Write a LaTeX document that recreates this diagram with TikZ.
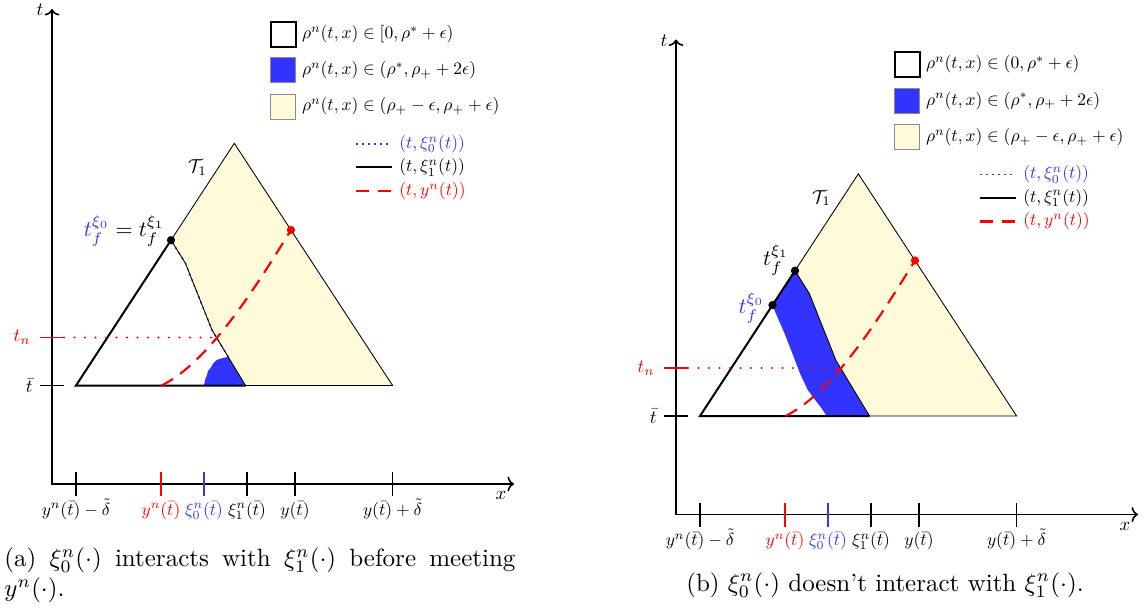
\documentclass[tikz,border=0pt]{standalone}
\usetikzlibrary{arrows.meta,calc}
\definecolor{ylw}{RGB}{255,250,218}
\definecolor{blu}{RGB}{51,51,255}
\definecolor{rd}{RGB}{255,0,0}
\tikzset{
  lab/.style={scale=0.7,inner sep=0pt},
  midlab/.style={scale=0.75,inner sep=0pt},
  biglab/.style={scale=0.88,inner sep=0pt},
  axisline/.style={line width=0.65pt},
  tickline/.style={line width=0.65pt},
  thinedge/.style={line width=0.35pt},
  thickedge/.style={line width=0.8pt},
  ycurve/.style={rd,line width=0.85pt,dash pattern=on 5.3pt off 3.5pt},
  tnline/.style={rd,line width=0.9pt,line cap=round,dash pattern=on 0pt off 4.2pt},
  xidot/.style={blu,line width=0.7pt,dash pattern=on 0.7pt off 1.7pt},
  dotmark/.style={circle,fill,inner sep=0pt,minimum size=3.3pt},
  legbox/.style={draw=black!45,line width=0.35pt},
}
\newcommand{\panelgeom}[1]{%
  \coordinate (#1A) at (76,385.5);
  \coordinate (#1B) at (392.6,385.5);
  \coordinate (#1C) at (234.3,143.3);
  \coordinate (#1D) at ($(#1A)!0.6!(#1C)$);
  \coordinate (#1H) at ($(#1A)!0.458!(#1C)$);
  \coordinate (#1P) at (185.3,263);
  \coordinate (#1Q) at (212,330);
  \coordinate (#1E) at (245.5,385.5);
  \coordinate (#1F) at (161.5,385.5);
  \coordinate (#1G) at ($(#1C)!0.358!(#1B)$);
  \coordinate (#1N) at (216.8,337.5);
  \coordinate (#1M) at (64,337.5);
  \coordinate (#1O) at (52,484);
  \coordinate (#1Y) at (52,9);
  \coordinate (#1X) at (514,484);
  \fill[ylw] (#1D) -- (#1C) -- (#1B) -- (#1E) -- (#1Q) -- (#1P) -- cycle;
}
\newcommand{\panellines}[2]{%
  \draw[thinedge] (#1D) -- (#1C) -- (#1B) -- (#1E);
  \draw[thinedge] (#1D) -- (#1P) -- (#1Q) -- (#1E);
  \draw[thickedge] (#1D) -- (#1A) -- (#1E);
  \draw[ycurve] (#1F) .. controls (211.5,361) and (261,278) .. (#1G);
  \draw[tnline] (#1M) -- (#1N);
  \draw[axisline,<->] (#1Y) -- (#1O) -- (#1X);
  \node[midlab] (#1tlab) at (40,10) {$t$};
  \node[midlab] (#1xlab) at (501,495.5) {$x$};
  % y ticks
  \draw[tickline] (40,385.5) -- (64,385.5);
  \draw[tickline,rd] (40,337.5) -- (#1M);
  \node[midlab,anchor=east] (#1tbar) at (33,385.5) {$\bar t$};
  \node[midlab,anchor=east,text=rd] (#1tn) at (31,337.5) {$t_n$};
  % x ticks
  \draw[tickline] (76,472) -- (76,496);
  \draw[tickline,rd] (161,472) -- (161,496);
  \draw[tickline,blu] (204,472) -- (204,496);
  \draw[tickline] (247,472) -- (247,496);
  \draw[tickline] (295,472) -- (295,496);
  \draw[tickline] (392.5,472) -- (392.5,496);
  \node[lab,anchor=base] (#1x1) at (76,515) {$y^n(\bar t)-\tilde\delta$};
  \node[lab,anchor=base,text=rd] (#1x2) at (161,515) {$y^n(\bar t)$};
  \node[lab,anchor=base,text=blu] (#1x3) at (204,515) {$\xi_0^n(\bar t)$};
  \node[lab,anchor=base] (#1x4) at (247,515) {$\xi_1^n(\bar t)$};
  \node[lab,anchor=base] (#1x5) at (295,515) {$y(\bar t)$};
  \node[lab,anchor=base] (#1x6) at (392.5,515) {$y(\bar t)+\tilde\delta$};
  \node[midlab] (#1T) at (197.5,167.5) {$\mathcal{T}_1$};
  \node[dotmark,rd] (#1dG) at (#1G) {};
  \node[dotmark] (#1dD) at (#1D) {};
  % legend
  \draw[thickedge] (270.7,21.7) rectangle (295.7,46.5);
  \node[lab,anchor=west] (#1l1) at (301.7,34) {#2};
  \draw[legbox,fill=blu] (270.7,57.7) rectangle (295.7,82.7);
  \node[lab,anchor=west] (#1l2) at (301.7,70.2) {$\rho^n(t,x)\in(\rho^*,\rho_++2\epsilon)$};
  \draw[legbox,fill=ylw] (270.7,94) rectangle (295.7,119);
  \node[lab,anchor=west] (#1l3) at (301.7,106.5) {$\rho^n(t,x)\in(\rho_+-\epsilon,\rho_++\epsilon)$};
  \coordinate (#1m1a) at (356,144); \coordinate (#1m1b) at (391.7,144);
  \coordinate (#1m2a) at (356,167.3); \coordinate (#1m2b) at (391.7,167.3);
  \coordinate (#1m3a) at (356,191); \coordinate (#1m3b) at (391.7,191);
  \draw[xidot] (#1m1a) -- (#1m1b);
  \draw[line width=0.7pt] (#1m2a) -- (#1m2b);
  \draw[ycurve] (#1m3a) -- (#1m3b);
  \node[lab,anchor=west,text=blu] (#1m1) at (399,144) {$(t,\xi_0^n(t))$};
  \node[lab,anchor=west] (#1m2) at (399,167.3) {$(t,\xi_1^n(t))$};
  \node[lab,anchor=west,text=rd] (#1m3) at (399,191) {$(t,y^n(t))$};
}
\begin{document}
\begin{tikzpicture}[x=0.4pt,y=-0.4pt,>={To[length=2.6pt,width=6pt]}]
\useasboundingbox (0,0) rectangle (1144,609);
% ---------- panel (a)
\panelgeom{a}
\fill[blu] (aE) -- (204,385.5) -- (205,380) -- (206.7,376) -- (208,371) -- (210.5,368) -- (213.3,363.3) -- (216.7,360) -- (221.7,358.3) -- (228.2,356.8) -- cycle;
\draw[xidot,line width=0.6pt] (228.2,356.8) -- (aQ) -- (aP) -- (aD);
\panellines{a}{$\rho^n(t,x)\in[0,\rho^*+\epsilon)$}
\node[biglab,anchor=east] (atf) at (165,231) {$\textcolor{blu}{t_f^{\xi_0}}=t_f^{\xi_1}$};
\node[anchor=north west,text width=204.4pt,align=justify,inner sep=0pt] (capa) at (4,547)
  {(a) $\xi_0^n(\cdot)$ interacts with $\xi_1^n(\cdot)$ before meeting $y^n(\cdot)$.};
% ---------- panel (b)
\begin{scope}[shift={(624,30.5)}]
\panelgeom{b}
\fill[blu] (bH) -- (bD) -- (bP) -- (bQ) -- (bE) -- (202.7,385.5) -- (197,377) -- (190,368) -- (183.5,359) -- (176,343) -- (168,322) -- (161,304) -- (151,281) -- cycle;
\panellines{b}{$\rho^n(t,x)\in(0,\rho^*+\epsilon)$}
\node[dotmark] (bdH) at (bH) {};
\node[biglab] (btf1) at (152,229.5) {$t_f^{\xi_1}$};
\node[biglab,text=blu] (btf0) at (127.5,277.5) {$t_f^{\xi_0}$};
\end{scope}
\node[anchor=base,inner sep=0pt] (capb) at (885,591)
  {(b) $\xi_0^n(\cdot)$ doesn't interact with $\xi_1^n(\cdot)$.};
\end{tikzpicture}
\end{document}
